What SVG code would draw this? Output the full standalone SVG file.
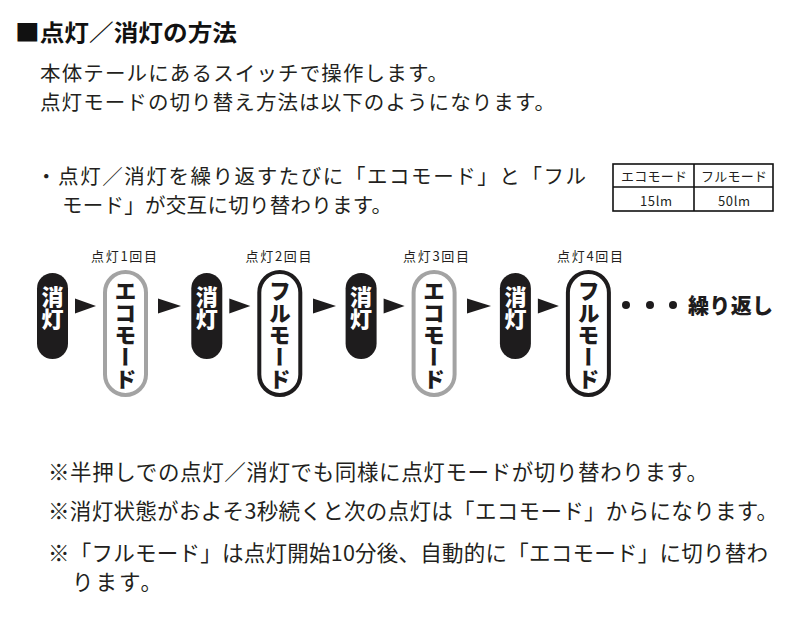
<svg xmlns="http://www.w3.org/2000/svg" width="800" height="619" viewBox="0 0 800 619">
<style>
text{font-family:"Noto Sans CJK JP","Noto Sans CJK SC",sans-serif;fill:#231f20}
.title{font-size:23px;font-weight:700;fill:#111}
.body{font-size:20.5px}
.note{font-size:21.5px}
.lbl{font-size:13px}
.tbl{font-size:13px}
.off{fill:#1e1c1d}
.offt{font-size:22px;font-weight:900;fill:#fff}
.eco{fill:#fff;stroke:#a3a3a3;stroke-width:4}
.full{fill:#fff;stroke:#1e1c1d;stroke-width:4}
.mt{font-size:22px;font-weight:900;fill:#1e1c1d}
.arr{fill:#1e1c1d}
.rep{font-size:21px;font-weight:900;fill:#1e1c1d}
</style>

<text class="title" x="15" y="41" textLength="222" lengthAdjust="spacingAndGlyphs">■点灯／消灯の方法</text>
<text class="body" x="40" y="81" textLength="408">本体テールにあるスイッチで操作します。</text>
<text class="body" x="40" y="110" textLength="515">点灯モードの切り替え方法は以下のようになります。</text>

<text class="body" x="36" y="184" textLength="550">・点灯／消灯を繰り返すたびに「エコモード」と「フル</text>
<text class="body" x="62" y="213" textLength="330">モード」が交互に切り替わります。</text>

<g id="table">
<rect x="613" y="164" width="160" height="47" fill="#fff" stroke="#111" stroke-width="1.6"/>
<line x1="694" y1="164" x2="694" y2="211" stroke="#111" stroke-width="1.6"/>
<line x1="613" y1="187" x2="773" y2="187" stroke="#111" stroke-width="1.6"/>
<text class="tbl" x="621" y="181" textLength="66">エコモード</text>
<text class="tbl" x="701" y="181" textLength="66">フルモード</text>
<text class="tbl" x="640" y="205.5" textLength="32">15lm</text>
<text class="tbl" x="718" y="205.5" textLength="32">50lm</text>
</g>

<g id="off1"><rect class="off" x="37" y="273" width="31" height="86" rx="15.5"/><text class="offt" x="52.5" y="308" writing-mode="vertical-rl" text-anchor="middle">消灯</text></g>
<g id="eco1"><rect class="eco" x="105" y="272" width="41" height="123" rx="20.5"/><text class="mt" x="125.5" y="335" writing-mode="vertical-rl" text-anchor="middle">エコモード</text><text class="lbl" x="124" y="261" text-anchor="middle" textLength="66">点灯1回目</text></g>
<g id="off2"><rect class="off" x="191.3" y="273" width="31" height="86" rx="15.5"/><text class="offt" x="206.8" y="308" writing-mode="vertical-rl" text-anchor="middle">消灯</text></g>
<g id="full1"><rect class="full" x="259.3" y="272" width="41" height="123" rx="20.5"/><text class="mt" x="279.8" y="335" writing-mode="vertical-rl" text-anchor="middle">フルモード</text><text class="lbl" x="278.5" y="261" text-anchor="middle" textLength="66">点灯2回目</text></g>
<g id="off3"><rect class="off" x="345.6" y="273" width="31" height="86" rx="15.5"/><text class="offt" x="361.1" y="308" writing-mode="vertical-rl" text-anchor="middle">消灯</text></g>
<g id="eco2"><rect class="eco" x="413.6" y="272" width="41" height="123" rx="20.5"/><text class="mt" x="434.1" y="335" writing-mode="vertical-rl" text-anchor="middle">エコモード</text><text class="lbl" x="436" y="261" text-anchor="middle" textLength="66">点灯3回目</text></g>
<g id="off4"><rect class="off" x="499.9" y="273" width="31" height="86" rx="15.5"/><text class="offt" x="515.4" y="308" writing-mode="vertical-rl" text-anchor="middle">消灯</text></g>
<g id="full2"><rect class="full" x="567.9" y="272" width="41" height="123" rx="20.5"/><text class="mt" x="588.4" y="335" writing-mode="vertical-rl" text-anchor="middle">フルモード</text><text class="lbl" x="590" y="261" text-anchor="middle" textLength="66">点灯4回目</text></g>

<g id="connectors">
<polygon class="arr" points="75,298.5 96,306 75,313.5"/>
<polygon class="arr" points="158,298.5 181,306 158,313.5"/>
<polygon class="arr" points="229.3,298.5 250.3,306 229.3,313.5"/>
<polygon class="arr" points="313,298.5 336,306 313,313.5"/>
<polygon class="arr" points="383.6,298.5 404.6,306 383.6,313.5"/>
<polygon class="arr" points="467,298.5 491,306 467,313.5"/>
<polygon class="arr" points="537.9,298.5 558.9,306 537.9,313.5"/>
</g>

<g id="repeat">
<circle cx="626" cy="305" r="4" fill="#1e1c1d"/>
<circle cx="650" cy="305" r="4" fill="#1e1c1d"/>
<circle cx="673" cy="305" r="4" fill="#1e1c1d"/>
<text class="rep" x="688" y="313" textLength="85">繰り返し</text>
</g>

<text class="note" x="48" y="480" textLength="660">※半押しでの点灯／消灯でも同様に点灯モードが切り替わります。</text>
<text class="note" x="48" y="519" textLength="730">※消灯状態がおよそ3秒続くと次の点灯は「エコモード」からになります。</text>
<text class="note" x="48" y="561" textLength="720">※「フルモード」は点灯開始10分後、自動的に「エコモード」に切り替わ</text>
<text class="note" x="72" y="590" textLength="90">ります。</text>
</svg>
